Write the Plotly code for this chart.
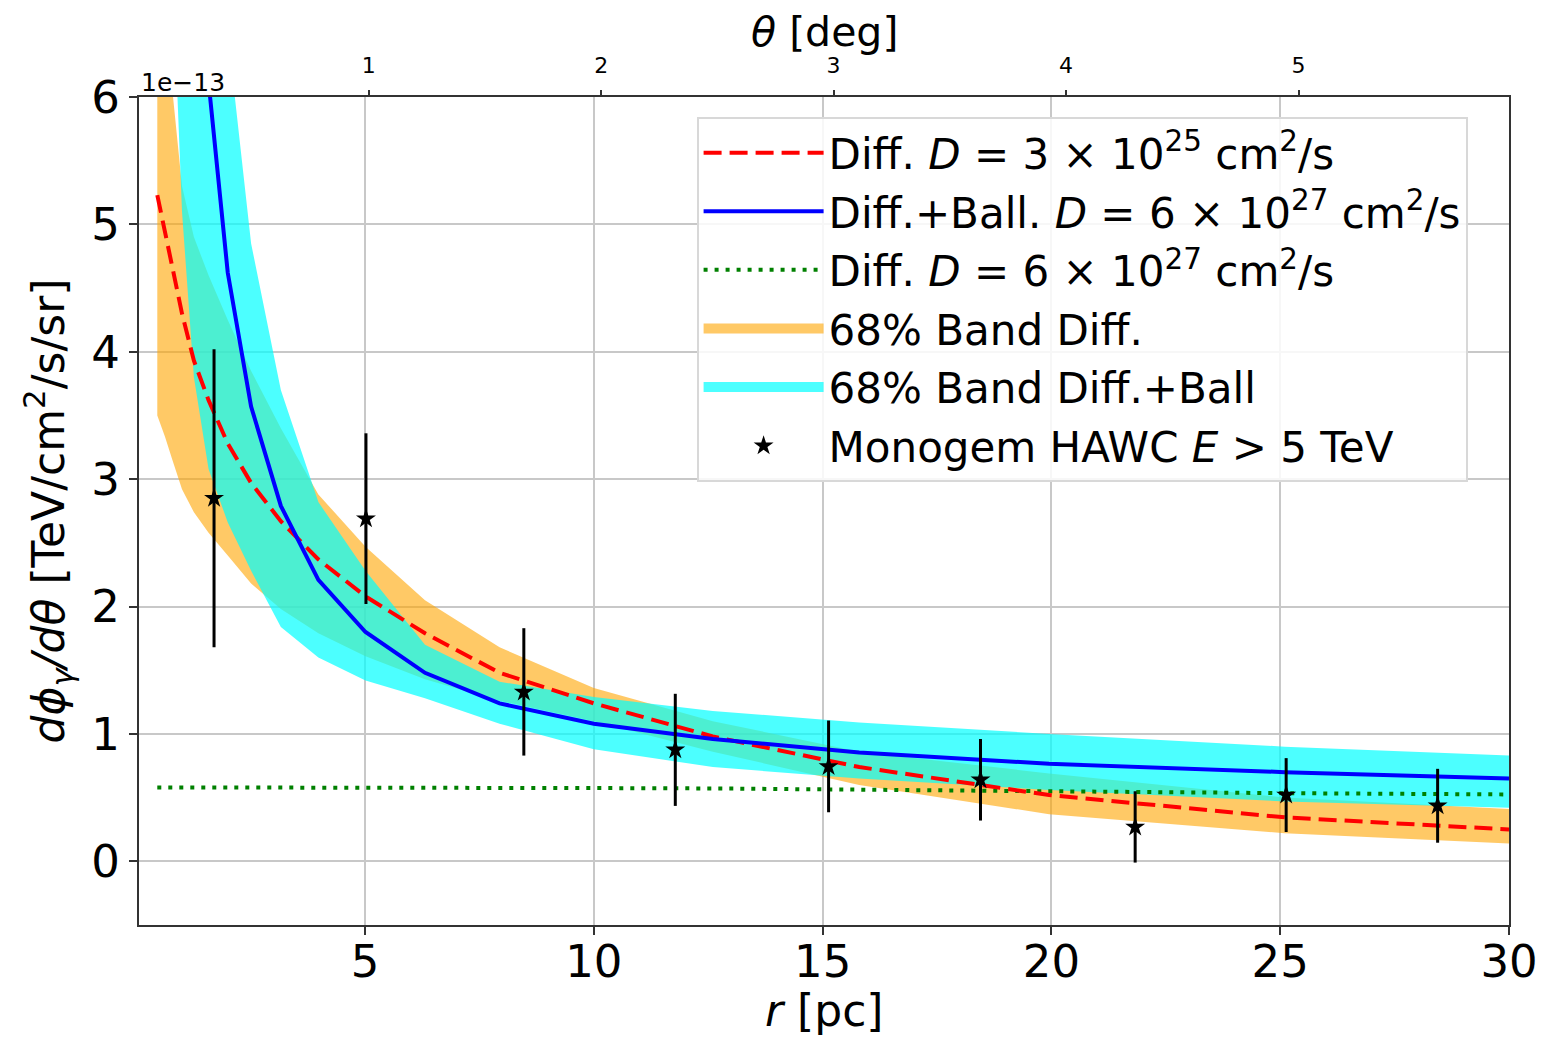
import plotly.graph_objects as go

# ---------------- data ----------------
# radial grid nodes [pc]
r_nodes = [0.46, 0.63, 0.79, 1.0, 1.26, 1.58, 2.0, 2.51, 3.16, 3.98, 5.01,
           6.31, 7.94, 10.0, 12.6, 15.8, 19.95, 25.1, 30.0]

# Diff. D = 3e25 (red dashed)
diff_lowD = [5.23, 4.93, 4.66, 4.30, 3.93, 3.62, 3.28, 2.97, 2.67, 2.37, 2.08,
             1.79, 1.48, 1.24, 0.98, 0.74, 0.52, 0.345, 0.25]
# Diff. D = 6e27 (green dotted)
diff_highD = [0.58, 0.58, 0.58, 0.58, 0.58, 0.58, 0.58, 0.58, 0.58, 0.58, 0.58,
              0.58, 0.578, 0.575, 0.572, 0.565, 0.55, 0.535, 0.525]
# 68% band Diff. (orange)
band_diff_lo = [3.50, 3.33, 3.15, 2.92, 2.74, 2.58, 2.40, 2.18, 1.98, 1.79, 1.61,
                1.43, 1.26, 1.10, 0.86, 0.60, 0.37, 0.22, 0.14]
band_diff_hi = [7.6, 6.6, 6.05, 5.3, 4.9, 4.6, 4.25, 3.85, 3.40, 2.88, 2.47,
                2.05, 1.68, 1.36, 1.10, 0.86, 0.69, 0.50, 0.41]

# Diff.+Ball. D = 6e27 (blue solid)
r_ball = [1.58, 2.0, 2.51, 3.16, 3.98, 5.01, 6.31, 7.94, 10.0, 12.6, 15.8,
          19.95, 25.1, 30.0]
diff_ball = [6.12, 4.62, 3.57, 2.79, 2.21, 1.80, 1.48, 1.24, 1.08, 0.96, 0.855,
             0.765, 0.70, 0.65]

# 68% band Diff.+Ball (cyan)
r_band_ball = [0.79, 1.0, 1.26, 1.58, 2.0, 2.51, 3.16, 3.98, 5.01, 6.31, 7.94,
               10.0, 12.6, 15.8, 19.95, 25.1, 30.0]
band_ball_lo = [7.0, 5.1, 3.8, 3.08, 2.66, 2.28, 1.84, 1.60, 1.42, 1.28, 1.08,
                0.88, 0.74, 0.65, 0.56, 0.47, 0.42]
band_ball_hi = [11.0, 10.0, 9.0, 8.0, 6.5, 4.85, 3.70, 2.82, 2.28, 1.70, 1.41,
                1.29, 1.18, 1.09, 1.00, 0.90, 0.83]

# Monogem HAWC E > 5 TeV data
r_data = [1.70, 5.02, 8.47, 11.78, 15.13, 18.45, 21.83, 25.13, 28.44]
flux_data = [2.85, 2.69, 1.33, 0.875, 0.745, 0.64, 0.27, 0.52, 0.436]
flux_err = [1.17, 0.67, 0.50, 0.44, 0.36, 0.32, 0.28, 0.29, 0.29]

# axis settings
x_range = [0.06, 30.0]
y_range = [-0.5, 6.0]
x_ticks = [5, 10, 15, 20, 25, 30]
y_ticks = [0, 1, 2, 3, 4, 5, 6]
theta_ticks = [1, 2, 3, 4, 5]
pc_per_deg = 5.08

FONT = "DejaVu Sans"
ORANGE = "rgba(255,165,0,0.6)"
CYAN = "rgba(0,255,255,0.7)"

fig = go.Figure()

# orange band
fig.add_trace(go.Scatter(x=r_nodes, y=band_diff_lo, mode="lines",
                         line=dict(width=0), showlegend=False, hoverinfo="skip"))
fig.add_trace(go.Scatter(x=r_nodes, y=band_diff_hi, mode="lines",
                         line=dict(width=0), fill="tonexty", fillcolor=ORANGE,
                         showlegend=False, name="68% Band Diff."))
# cyan band
fig.add_trace(go.Scatter(x=r_band_ball, y=band_ball_lo, mode="lines",
                         line=dict(width=0), showlegend=False, hoverinfo="skip"))
fig.add_trace(go.Scatter(x=r_band_ball, y=band_ball_hi, mode="lines",
                         line=dict(width=0), fill="tonexty", fillcolor=CYAN,
                         showlegend=False, name="68% Band Diff.+Ball"))

# green dotted
fig.add_trace(go.Scatter(x=r_nodes, y=diff_highD, mode="lines",
                         line=dict(color="green", width=4, dash="4px,7px"),
                         name="Diff. <i>D</i> = 6 × 10<sup>27</sup> cm<sup>2</sup>/s",
                         legendrank=3, legendgroup="g3"))
# red dashed
fig.add_trace(go.Scatter(x=r_nodes, y=diff_lowD, mode="lines",
                         line=dict(color="red", width=4, dash="18px,8px"),
                         name="Diff. <i>D</i> = 3 × 10<sup>25</sup> cm<sup>2</sup>/s",
                         legendrank=1, legendgroup="g1"))
# blue solid
fig.add_trace(go.Scatter(x=r_ball, y=diff_ball, mode="lines",
                         line=dict(color="blue", width=4),
                         name="Diff.+Ball. <i>D</i> = 6 × 10<sup>27</sup> cm<sup>2</sup>/s",
                         legendrank=2, legendgroup="g2"))
# legend swatches for the bands
fig.add_trace(go.Scatter(x=[None], y=[None], mode="lines",
                         line=dict(color=ORANGE, width=30),
                         name="68% Band Diff.", legendrank=4, legendgroup="g4"))
fig.add_trace(go.Scatter(x=[None], y=[None], mode="lines",
                         line=dict(color=CYAN, width=30),
                         name="68% Band Diff.+Ball", legendrank=5, legendgroup="g5"))
# data
fig.add_trace(go.Scatter(x=r_data, y=flux_data, mode="markers",
                         marker=dict(symbol="star", size=15, color="black"),
                         error_y=dict(type="data", array=flux_err, color="black",
                                      thickness=3, width=0),
                         name="Monogem HAWC <i>E</i> > 5 TeV",
                         legendrank=6, legendgroup="g6"))
# dummy trace for the top (theta) axis
fig.add_trace(go.Scatter(x=[None], y=[None], xaxis="x2", showlegend=False,
                         hoverinfo="skip"))

axis_common = dict(showline=True, linecolor="#333333", linewidth=2,
                   showgrid=True, gridcolor="#c8c8c8", gridwidth=1.5,
                   zeroline=False, ticks="outside", ticklen=8, tickwidth=1.5,
                   tickcolor="#333333", automargin=False)

# the page body adds an 8 px offset; compensate in size / margins
fig.update_layout(
    width=1537, height=1030,
    margin=dict(l=131, r=36, t=89, b=113),
    paper_bgcolor="white", plot_bgcolor="white",
    font=dict(family=FONT, color="black"),
    xaxis=dict(range=x_range, tickvals=x_ticks, mirror=True,
               tickfont=dict(size=45, family=FONT), ticklabelstandoff=-12,
               **axis_common),
    xaxis2=dict(range=[x_range[0] / pc_per_deg, x_range[1] / pc_per_deg],
                overlaying="x", side="top", tickvals=theta_ticks,
                showline=False, showgrid=False, zeroline=False, automargin=False,
                ticks="outside", ticklen=6, tickwidth=1.5, tickcolor="#333333",
                tickfont=dict(size=22, family=FONT), ticklabelstandoff=8),
    yaxis=dict(range=y_range, tickvals=y_ticks, mirror=True,
               tickfont=dict(size=45, family=FONT),
               title=dict(text="<i>dϕ</i><sub><i>γ</i></sub><i>/dθ</i> [TeV/cm<sup>2</sup>/s/sr]",
                          font=dict(size=44, family=FONT), standoff=13),
               **axis_common),
    legend=dict(x=0.407, y=0.976, xanchor="left", yanchor="top",
                bgcolor="rgba(255,255,255,0.85)", bordercolor="#d8d8d8",
                borderwidth=2, font=dict(size=42, family=FONT),
                traceorder="grouped", tracegroupgap=1, itemwidth=120),
    annotations=[
        dict(text="1e−13", x=0, y=1, xref="paper", yref="paper",
             xanchor="left", yanchor="bottom", showarrow=False,
             font=dict(size=25, family=FONT), yshift=-2),
        dict(text="<i>θ</i> [deg]", x=0.5, y=1, xref="paper", yref="paper",
             xanchor="center", yanchor="middle", showarrow=False,
             font=dict(size=41, family=FONT), yshift=65),
        dict(text="<i>r</i> [pc]", x=0.5, y=0, xref="paper", yref="paper",
             xanchor="center", yanchor="middle", showarrow=False,
             font=dict(size=44, family=FONT), yshift=-85),
    ],
)

fig.write_html("out.html")
